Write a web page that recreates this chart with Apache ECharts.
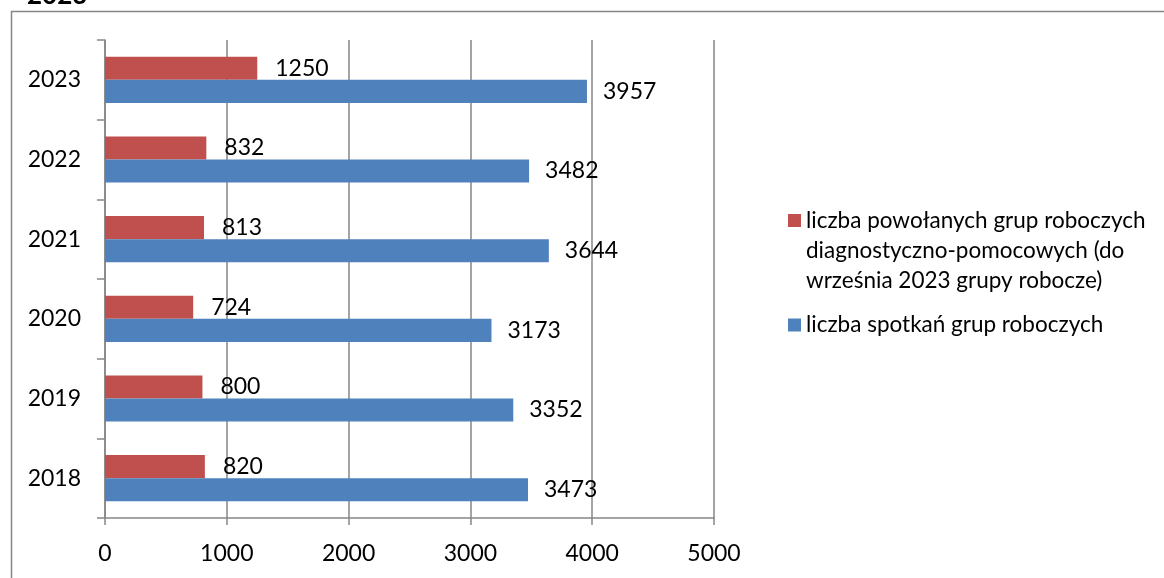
<!DOCTYPE html>
<html>
<head>
<meta charset="utf-8">
<script src="https://cdn.jsdelivr.net/npm/echarts@6/dist/echarts.min.js"></script>
<style>html,body{margin:0;padding:0;background:#fff;}#c{width:1164px;height:578px;}</style>
</head>
<body>
<div id="c"></div>
<script>
const years = ['2018', '2019', '2020', '2021', '2022', '2023'];
const groupsName = 'liczba powołanych grup roboczych\ndiagnostyczno-pomocowych (do\nwrześnia 2023 grupy robocze)';
const meetingsName = 'liczba spotkań grup roboczych';
const groupsValues = [820, 800, 724, 813, 832, 1250];
const meetingsValues = [3473, 3352, 3173, 3644, 3482, 3957];
const xTicks = { min: 0, max: 5000, interval: 1000 };

const FONT = 'Lato';
const FS = 23;
const LFS = 22.5;
const chart = echarts.init(document.getElementById('c'));
chart.setOption({
  animation: false,
  textStyle: { fontFamily: FONT },
  graphic: [
    { type: 'rect', left: 9, top: 9, shape: { width: 1170, height: 580 },
      style: { fill: 'none', stroke: '#868686', lineWidth: 1.5 } },
    { type: 'text', x: 27, y: 9, style: { text: '2023', font: 'bold 26px ' + FONT, fill: '#000', verticalAlign: 'bottom' } }
  ],
  grid: { left: 105, right: 450, top: 40, bottom: 60, containLabel: false },
  legend: [
    { data: [groupsName], orient: 'vertical', left: 783, top: 201,
      itemWidth: 13, itemHeight: 90,
      icon: 'path://M0,0M0,8h13v13h-13zM0,90',
      textStyle: { fontSize: LFS, lineHeight: 30, color: '#000', fontFamily: FONT } },
    { data: [meetingsName], orient: 'vertical', left: 783, top: 305,
      itemWidth: 13, itemHeight: 13, icon: 'rect',
      textStyle: { fontSize: LFS, lineHeight: 30, color: '#000', fontFamily: FONT } }
  ],
  xAxis: {
    type: 'value', min: xTicks.min, max: xTicks.max, interval: xTicks.interval,
    axisLine: { show: true, lineStyle: { color: '#868686', width: 1.5 } },
    axisTick: { show: true, length: 7, lineStyle: { color: '#868686', width: 1.5 } },
    splitLine: { show: true, lineStyle: { color: '#868686', width: 1.5 } },
    axisLabel: { fontSize: FS, color: '#000', margin: 24, fontFamily: FONT, formatter: v => String(v) }
  },
  yAxis: {
    type: 'category', data: years,
    axisLine: { show: true, lineStyle: { color: '#868686', width: 1.5 } },
    axisTick: { show: true, length: 8, lineStyle: { color: '#868686', width: 1.5 } },
    axisLabel: { fontSize: FS, color: '#000', margin: 24, fontFamily: FONT }
  },
  series: [
    { name: groupsName, type: 'bar', data: groupsValues, barGap: '0%', barCategoryGap: '42%',
      itemStyle: { color: '#C0504D' },
      label: { show: true, position: 'right', distance: 18, fontSize: FS, color: '#000', fontFamily: FONT } },
    { name: meetingsName, type: 'bar', data: meetingsValues, barGap: '0%', barCategoryGap: '42%',
      itemStyle: { color: '#4F81BD' },
      label: { show: true, position: 'right', distance: 16, fontSize: FS, color: '#000', fontFamily: FONT } }
  ]
});
</script>
</body>
</html>
